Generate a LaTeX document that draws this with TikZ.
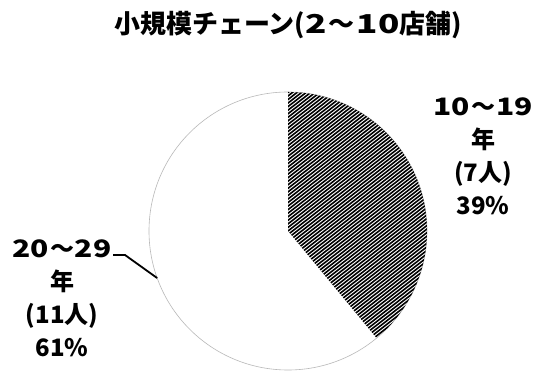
\documentclass[tikz,border=0pt]{standalone}
\usepackage{fontspec}
\usepackage{graphicx}
\newfontfamily\jp{Noto Sans CJK JP}
\newcommand\widedig[1]{\scalebox{1.25}[1]{#1}}
\newcommand\titledig[1]{\scalebox{1.35}[1]{#1}}
\usetikzlibrary{calc}
\begin{document}
\begin{tikzpicture}[x=1pt,y=1pt,
  titlestyle/.style={font=\jp\bfseries\fontsize{26}{30}\selectfont, inner sep=0pt},
  lbl/.style={font=\jp\bfseries\fontsize{24}{33}\selectfont, align=center, inner sep=0pt},
  rim/.style={draw=gray!55, line width=0.6pt},
  hatchline/.style={line width=1.6pt, black},
  leader/.style={line width=1.8pt, black}]
\useasboundingbox (0,0) rectangle (541,374);
\fill[white] (0,0) rectangle (541,374);
\coordinate (C) at (288,143);
\def\R{139}
\node[titlestyle] (ttl) at (288,349) {小規模チェーン(\titledig{2}\hspace{2pt}～\hspace{2pt}\titledig{10}店舗)};
% pie rim
\draw[rim] (C) circle[radius=\R];
% hatched slice 10-19 years (39%)
\begin{scope}
  \clip (C) -- ++(90:\R) arc[start angle=90,end angle=-50.4,radius=\R] -- cycle;
  \begin{scope}[shift={(C)}, rotate=38]
    \foreach \k in {-60,...,60}{\draw[hatchline] (-170,\k*2.8) -- (170,\k*2.8);}
  \end{scope}
\end{scope}
% labels
\node[lbl] (l10) at (483,218) {\widedig{10}\hspace{1pt}～\hspace{1pt}\widedig{19}\\年\\(7人)\\39\%};
\node[lbl] (l20) at (62,75.5) {\widedig{20}\hspace{1pt}～\hspace{1pt}\widedig{29}\\年\\(11人)\\61\%};
% leader line
\coordinate (la) at (113,119);
\coordinate (lb) at (125,119);
\coordinate (lc) at ($(C)+(199.8:\R)$);
\draw[leader] (la) -- (lb) -- (lc);
\end{tikzpicture}
\end{document}
